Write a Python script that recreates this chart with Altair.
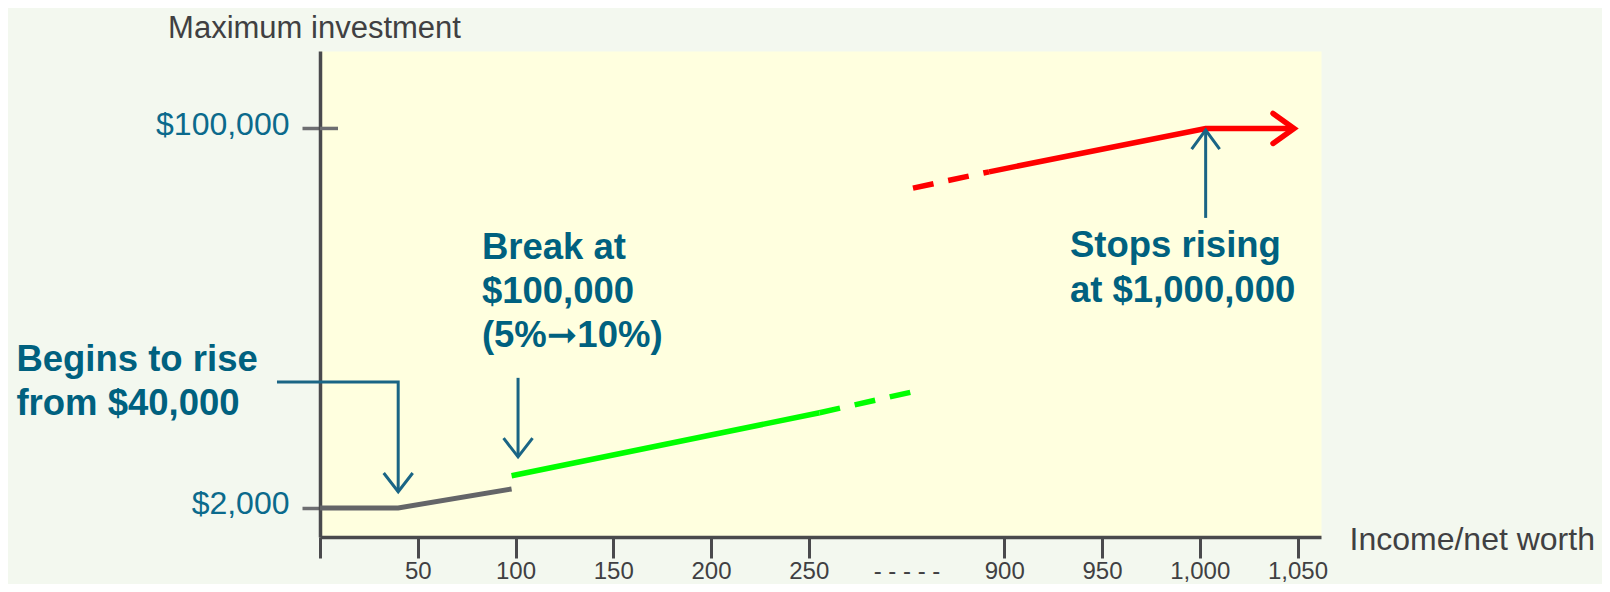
import altair as alt
import pandas as pd

# ---------------- data ----------------
# Broken income axis: positions 0-250 are income in $K, 300 is the break,
# positions 350-500 stand for income 900-1,050 $K.
x_tick_pos = [0, 50, 100, 150, 200, 250, 300, 350, 400, 450, 500]
x_tick_labels = ["", "50", "100", "150", "200", "250", "- - - - -", "900", "950", "1,000", "1,050"]
y_tick_vals = [2, 100]                      # maximum investment, $K
y_tick_labels = ["$2,000", "$100,000"]

grey_x = [0, 40, 98]
grey_y = [2, 2, 6.9]
green_solid_x = [98, 255.5]
green_solid_y = [10.3, 26.6]
green_dash_x = [255.5, 302.3]
green_dash_y = [26.6, 31.9]
red_dash_x = [303.3, 342.2]
red_dash_y = [84.6, 88.8]
red_solid_x = [342.2, 453, 497.5]
red_solid_y = [88.8, 100, 100]
red_tip = (498.2, 100)

# annotation arrows
conn_x = [-22, 40, 40]
conn_y = [34.5, 34.5, 6.2]
arrow2_x = [101.3, 101.3]
arrow2_y = [35.6, 15.2]
arrow3_x = [453, 453]
arrow3_y = [76.9, 99.6]

ann_text = ["Begins to rise", "from $40,000", "Break at", "$100,000", "(5%\u279e10%)",
            "Stops rising", "at $1,000,000"]
ann_x = [-155.3, -155.3, 82.8, 82.8, 82.8, 383.6, 383.6]
ann_y = [37.4, 26.0, 66.3, 54.9, 43.6, 66.8, 55.2]

# ---------------- style ----------------
FONT = "Liberation Sans, Arial, Helvetica, DejaVu Sans, sans-serif"
BG = "#F3F8EF"
PLOT_BG = "#FFFFDF"
DARK = "#404042"
AXIS_DARK = "#4A4A4D"
TICK_GREY = "#6D6E71"
TEAL_LABEL = "#0B6A8C"
TEAL_TEXT = "#00617F"
TEAL_ARROW = "#1A6585"
GREY_LINE = "#646568"
GREEN = "#00FF00"
RED = "#FF0000"

x_label_expr = "[" + ",".join(f"'{l}'" for l in x_tick_labels) + "][indexof([" + \
    ",".join(str(v) for v in x_tick_pos) + "], datum.value)]"
y_label_expr = "[" + ",".join(f"'{l}'" for l in y_tick_labels) + "][indexof([" + \
    ",".join(str(v) for v in y_tick_vals) + "], datum.value)]"

x_scale = alt.Scale(domain=[0, 512], nice=False, zero=False)
y_scale = alt.Scale(domain=[-5.5, 120], nice=False, zero=False)

x_axis = alt.Axis(
    values=x_tick_pos, labelExpr=x_label_expr, labelOverlap=False, labelFlush=False,
    labelFont=FONT, labelFontSize=24, labelColor=DARK, labelPadding=1,
    tickSize=21, tickWidth=3, tickColor=AXIS_DARK,
    tickOpacity={"condition": {"test": "datum.value == 300", "value": 0}, "value": 1},
    domainColor=AXIS_DARK, domainWidth=3.5, grid=False,
    title="Income/net worth", titleFont=FONT, titleFontSize=32, titleFontWeight="normal",
    titleColor=DARK, titleAlign="left", titleBaseline="alphabetic", titleAnchor="start",
    titleX=1029, titleY=12,
)
y_axis = alt.Axis(
    values=y_tick_vals, labelExpr=y_label_expr, labelOverlap=False, labelFlush=False,
    labelFont=FONT, labelFontSize=32, labelColor=TEAL_LABEL, labelPadding=13, labelOffset=-4,
    tickSize=18, tickWidth=3.5, tickColor=TICK_GREY,
    domainColor=AXIS_DARK, domainWidth=3.5, grid=False,
    title="Maximum investment", titleFont=FONT, titleFontSize=31, titleFontWeight="normal",
    titleColor=DARK, titleAngle=0, titleAlign="center", titleBaseline="alphabetic",
    titleX=-6, titleY=-14,
)

X_ENC = alt.X("x:Q", scale=x_scale, axis=x_axis)
Y_ENC = alt.Y("y:Q", scale=y_scale, axis=y_axis)


def df_of(xs, ys):
    return pd.DataFrame({"x": xs, "y": ys, "i": list(range(len(xs)))})


def line_layer(xs, ys, color, width, dash=None, cap="butt"):
    kw = dict(color=color, strokeWidth=width, strokeCap=cap, strokeJoin="miter")
    if dash:
        kw["strokeDash"] = dash
    return alt.Chart(df_of(xs, ys)).mark_line(**kw).encode(x=X_ENC, y=Y_ENC, order="i:Q")


layers = []

# inner half of the y ticks (they cross the axis)
layers.append(
    alt.Chart(pd.DataFrame({"y": y_tick_vals})).mark_rule(color=TICK_GREY, strokeWidth=3.5)
    .encode(x=alt.value(0), x2=alt.value(18), y=Y_ENC)
)

layers.append(line_layer(grey_x, grey_y, GREY_LINE, 5))
layers.append(line_layer(green_solid_x, green_solid_y, GREEN, 5.5))
layers.append(line_layer(green_dash_x, green_dash_y, GREEN, 5.5, dash=[21, 15]))
layers.append(line_layer(red_dash_x, red_dash_y, RED, 5.5, dash=[21, 15]))
layers.append(line_layer(red_solid_x, red_solid_y, RED, 5.5))

# red arrow head
layers.append(
    alt.Chart(pd.DataFrame({"x": [red_tip[0]], "y": [red_tip[1]]}))
    .mark_point(shape="M-1.4,-1L0,0L-1.4,1", size=900, filled=False, strokeWidth=5.5,
                color=RED, opacity=1, strokeCap="round", strokeJoin="miter")
    .encode(x=X_ENC, y=Y_ENC)
)

# annotation arrows
layers.append(line_layer(conn_x, conn_y, TEAL_ARROW, 3))
layers.append(line_layer(arrow2_x, arrow2_y, TEAL_ARROW, 3))
layers.append(line_layer(arrow3_x, arrow3_y, TEAL_ARROW, 3))

heads = pd.DataFrame({
    "x": [conn_x[-1], arrow2_x[-1], arrow3_x[-1]],
    "y": [conn_y[-1], arrow2_y[-1], arrow3_y[-1]],
    "shape": ["M-1,-1.29L0,0L1,-1.29", "M-1,-1.29L0,0L1,-1.29", "M-1,1.36L0,0L1,1.36"],
    "s": [841, 841, 784],
})
layers.append(
    alt.Chart(heads).mark_point(filled=False, strokeWidth=3, color=TEAL_ARROW, opacity=1,
                                strokeJoin="miter")
    .encode(x=X_ENC, y=Y_ENC, shape=alt.Shape("shape:N", scale=None),
            size=alt.Size("s:Q", scale=None))
)

# annotation texts
layers.append(
    alt.Chart(pd.DataFrame({"x": ann_x, "y": ann_y, "t": ann_text}))
    .mark_text(align="left", baseline="alphabetic", font=FONT, fontSize=36.5,
               fontWeight="bold", color=TEAL_TEXT)
    .encode(x=X_ENC, y=Y_ENC, text="t:N")
)

chart = alt.layer(*layers).properties(
    width=1001, height=486, background=BG,
    padding={"left": 312, "top": 43, "right": 281, "bottom": 47},
    autosize=alt.AutoSizeParams(type="none"),
).configure_view(fill=PLOT_BG, stroke="transparent")

chart.save("out.html", embed_options={"renderer": "svg", "actions": False})
